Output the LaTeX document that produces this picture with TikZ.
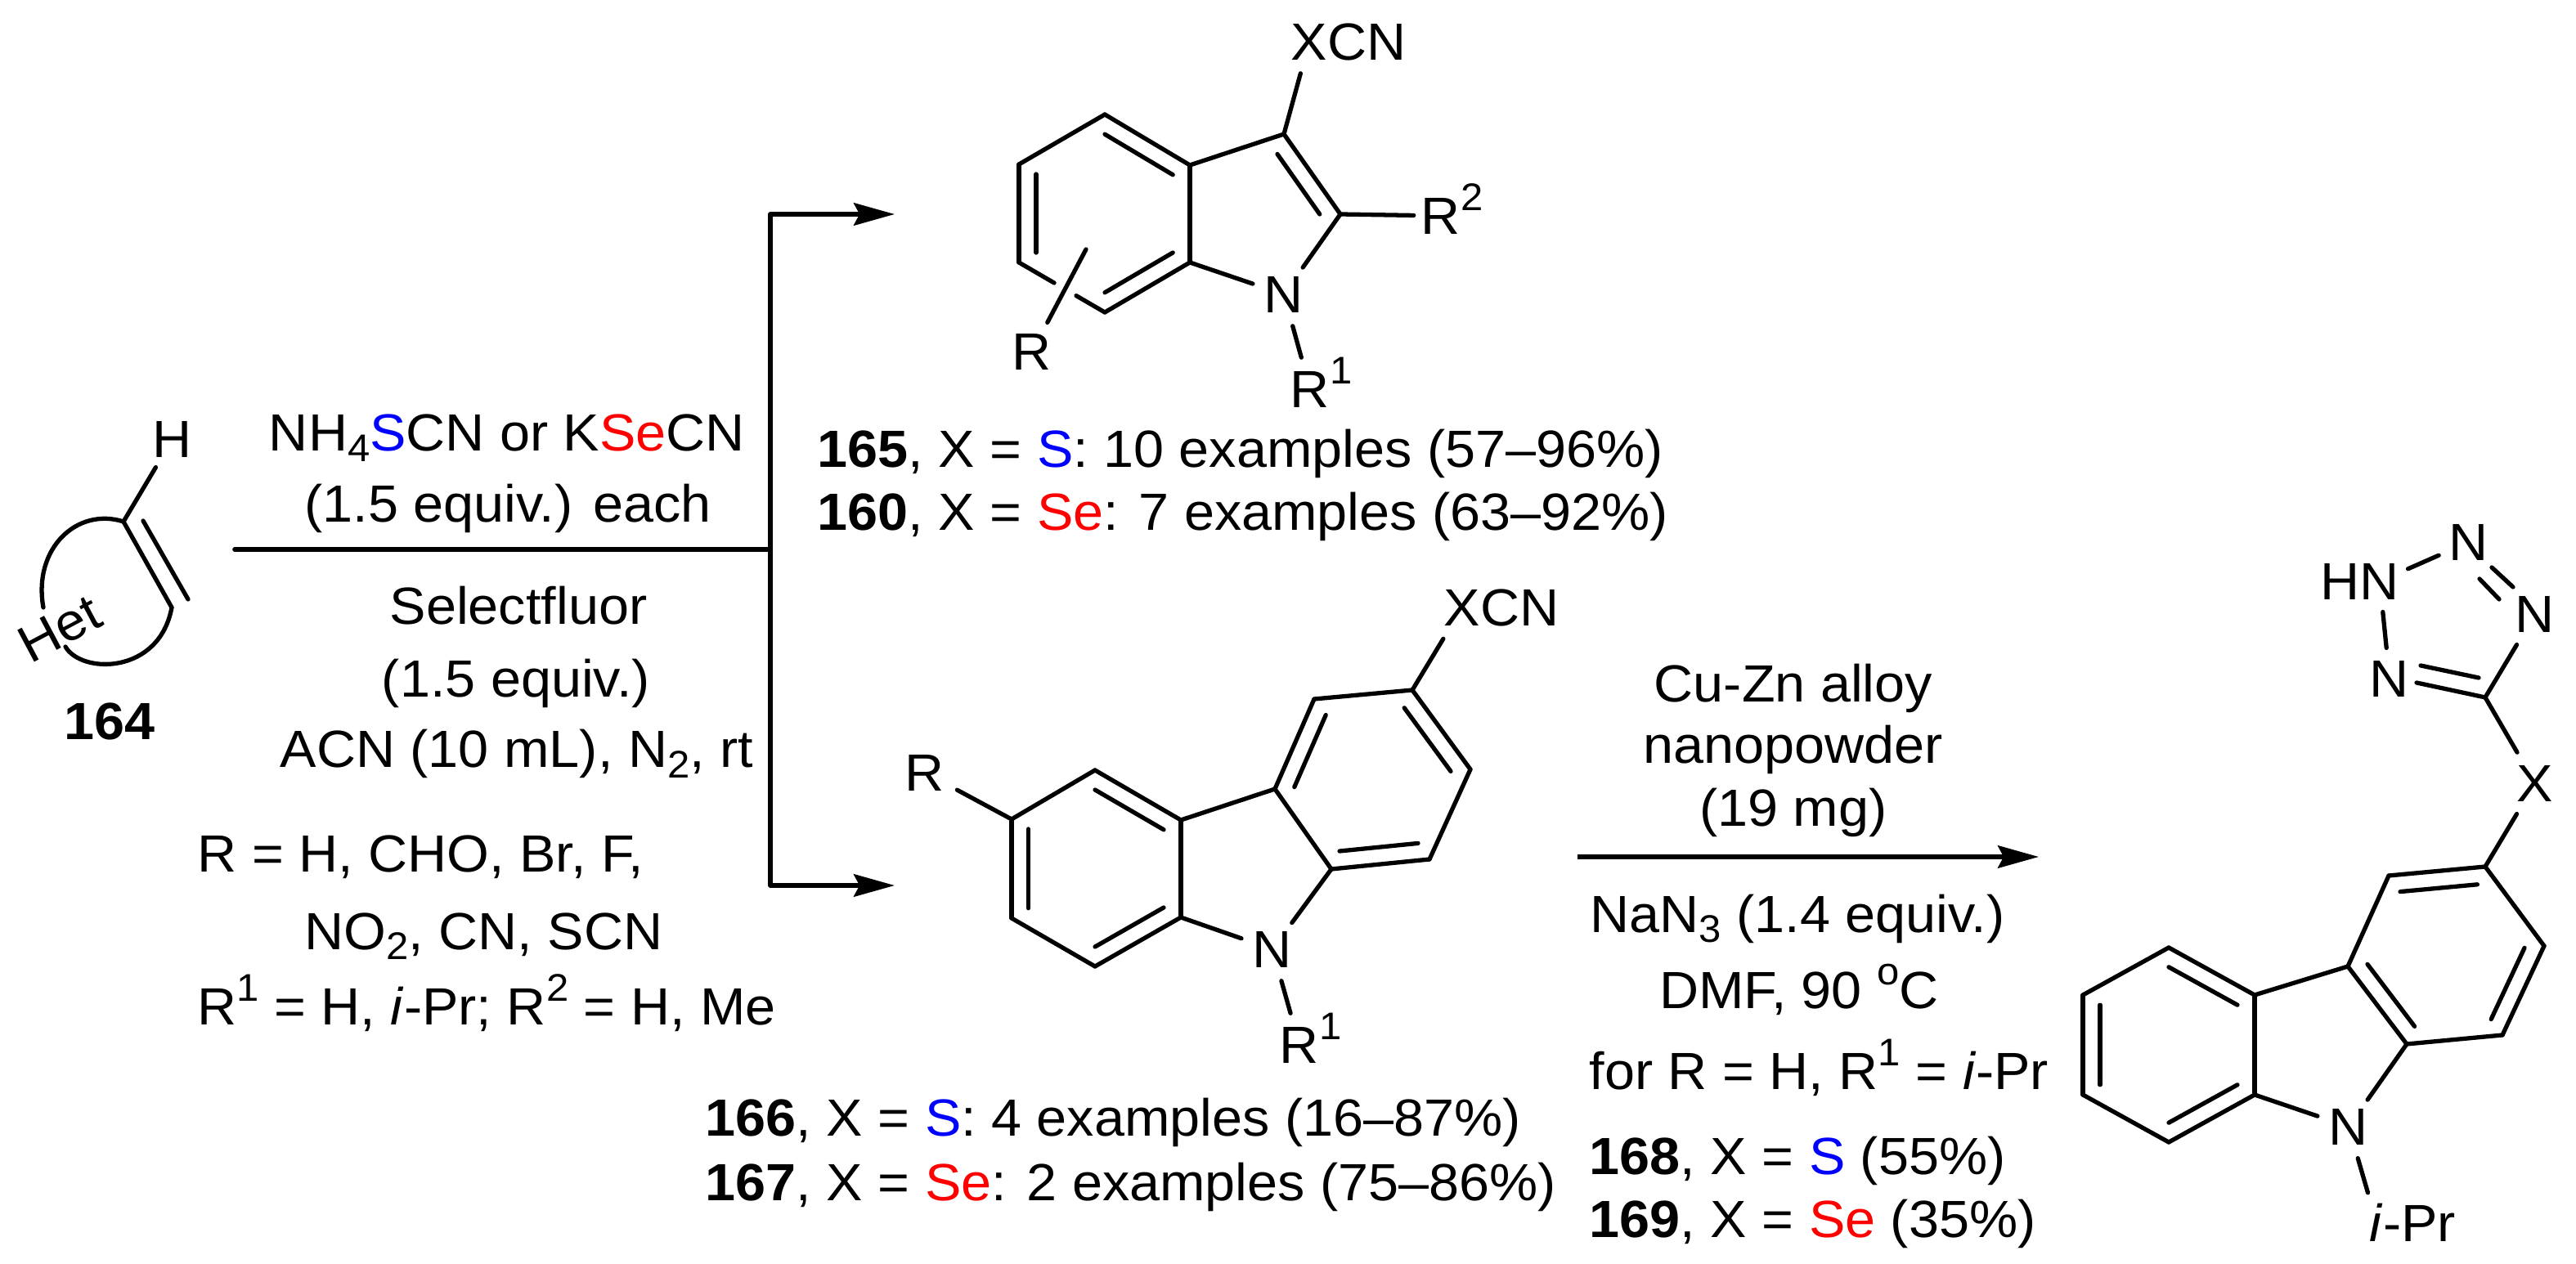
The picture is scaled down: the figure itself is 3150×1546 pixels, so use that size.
\documentclass[tikz,border=0pt]{standalone}
\usepackage{fontspec}
\setmainfont[FakeStretch=1.04]{Liberation Sans}
\usetikzlibrary{calc,arrows.meta}
\definecolor{sblue}{RGB}{0,0,255}
\definecolor{sered}{RGB}{255,0,0}
\newcommand{\sbs}[1]{\raisebox{-3.6pt}{\fontsize{13.4pt}{13pt}\selectfont #1}}
\newcommand{\sps}[1]{\raisebox{8pt}{\fontsize{13.4pt}{13pt}\selectfont #1}}
\newcommand{\sulf}{\textcolor{sblue}{S}}
\newcommand{\selen}{\textcolor{sered}{Se}}
\begin{document}
\begin{tikzpicture}[x=0.01cm,y=-0.01cm]
	\tikzstyle{every node}=[font=\fontsize{18.2pt}{21pt}\selectfont]
	\tikzstyle{bond}=[draw, line width=1.5pt, line cap=round, line join=round]
	\tikzstyle{rxn}=[draw, line width=1.6pt, line join=round, {Stealth[length=14.2pt,width=7.8pt,inset=2pt]}-{Stealth[length=14.2pt,width=7.8pt,inset=2pt]}]
	\tikzstyle{rxnr}=[draw, line width=1.6pt, -{Stealth[length=14.2pt,width=7.8pt,inset=2pt]}]
	\tikzstyle{plain}=[draw, line width=1.6pt, line cap=round]
	\tikzstyle{atom}=[circle, inner sep=0pt, minimum size=7.9mm]
	\tikzstyle{lab}=[inner sep=0pt, anchor=base]
	\tikzstyle{labw}=[inner sep=0pt, anchor=base west]
	\useasboundingbox (0,0) rectangle (3150,1546);
	\begin{scope}
		\coordinate (va) at (151,638);
		\coordinate (vb) at (210,743);
		\coordinate (vc) at (175,637);
		\coordinate (vd) at (230,733);
		\coordinate (he) at (53,743);
		\coordinate (hf) at (80,791);
		\node [atom] (vh) at (211,537) {H};
		\node [lab, rotate=28] (het) at (83,788) {Het};
		\node [lab] (n164) at (134,904) {\textbf{164}};
		\path[bond] (va) -- (vh);
		\path[bond] (va) -- (vb);
		\path[bond] (vc) -- (vd);
		\path[bond] (va) .. controls (95,620) and (40,670) .. (he);
		\path[bond] (hf) .. controls (100,825) and (195,825) .. (vb);
	\end{scope}
	\begin{scope}
		\coordinate (rs) at (287,672);
		\coordinate (rm) at (942,672);
		\coordinate (rt) at (942,262);
		\coordinate (rb) at (942,1083);
		\coordinate (ta) at (1094,262);
		\coordinate (tb) at (1094,1083);
		\path[plain] (rs) -- (rm);
		\path[rxn] (ta) -- (rt) -- (rb) -- (tb);
		\node [lab] (ra) at (620,552) {NH\sbs{4}\sulf CN or K\selen CN};
		\node [lab] (rc) at (621,639) {(1.5 equiv.) each};
		\node [lab] (rd) at (634,764) {Selectfluor};
		\node [lab] (re) at (631,852) {(1.5 equiv.)};
		\node [lab] (rf) at (632,939) {ACN (10 mL), N\sbs{2}, rt};
		\node [labw] (rg) at (241,1066) {R = H, CHO, Br, F,};
		\node [labw] (rh) at (372,1161) {NO\sbs{2}, CN, SCN};
		\node [labw] (ri) at (241,1253) {R\sps{1} = H, \textit{i}-Pr; R\sps{2} = H, Me};
	\end{scope}
	\begin{scope}
		\foreach \n/\x/\y in {ia/1351/140,ib/1246/201,ic/1246/321,id/1351/382,ie/1455/321,if/1455/202,ig/1570/164,ih/1639/262,iu/1351/261,iv/1538/262,ir/1328/305}
			\coordinate (\n) at (\x,\y);
		\node [atom] (in) at (1570,360) {N};
		\node [atom] (ix) at (1601,51) {X\rlap{CN}};
		\node [atom] (irr) at (1262,430) {R};
		\node [atom] (irb) at (1602,476) {R\rlap{\smash{\sps{1}}}};
		\node [atom, minimum size=6.4mm] (irc) at (1762,264) {R\rlap{\smash{\sps{2}}}};
		\foreach \p/\q in {ia/ib,ib/ic,id/ie,ie/if,if/ia,if/ig,ig/ih,ig/ix,ih/irc,ie/in,ih/in,in/irb,ir/irr}
			\path[bond] (\p) -- (\q);
		\path[bond] (ic) -- ($(ic)!.41!(id)$);
		\path[bond] ($(ic)!.667!(id)$) -- (id);
		\foreach \p/\q/\c/\f in {ia/if/iu/.2,ib/ic/iu/.2,id/ie/iu/.2,ig/ih/iv/.25}
			\path[bond] ($(\p)!\f!(\c)$) -- ($(\q)!\f!(\c)$);
		\node [labw] (t165) at (999,572) {\textbf{165}, X = \sulf: 10 examples (57–96\%)};
		\node [labw] (t160) at (999,649) {\textbf{160}, X = \selen: 7 examples (63–92\%)};
	\end{scope}
	\begin{scope}
		\foreach \n/\x/\y in {ca/1339/942,cb/1237/1002,cc/1237/1123,cd/1339/1182,ce/1444/1122,cf/1444/1003,cg/1559/965,ch/1628/1063,ci/1748/1051,cj/1798/941,ck/1727/844,cl/1607/855,cu/1339/1062,cv/1678/953}
			\coordinate (\n) at (\x,\y);
		\node [atom] (cn) at (1556,1161) {N};
		\node [atom, minimum size=8.8mm] (cx) at (1788,743) {X\rlap{CN}};
		\node [atom, minimum size=8.8mm] (cr) at (1131,945) {R};
		\node [atom] (crb) at (1589,1278) {R\rlap{\smash{\sps{1}}}};
		\foreach \p/\q in {ca/cb,cb/cc,cc/cd,cd/ce,ce/cf,cf/ca,cf/cg,cg/ch,ch/ci,ci/cj,cj/ck,ck/cl,cl/cg,ce/cn,ch/cn,cn/crb,cb/cr,ck/cx}
			\path[bond] (\p) -- (\q);
		\foreach \p/\q/\c in {ca/cf/cu,cb/cc/cu,cd/ce/cu,ch/ci/cv,cj/ck/cv,cl/cg/cv}
			\path[bond] ($(\p)!.2!(\c)$) -- ($(\q)!.2!(\c)$);
		\node [labw] (t166) at (862,1389) {\textbf{166}, X = \sulf: 4 examples (16–87\%)};
		\node [labw] (t167) at (862,1468) {\textbf{167}, X = \selen: 2 examples (75–86\%)};
	\end{scope}
	\begin{scope}
		\coordinate (ps) at (1929,1048);
		\coordinate (pt) at (2493,1048);
		\path[rxnr] (ps) -- (pt);
		\node [lab] (pa) at (2193,858) {Cu-Zn alloy};
		\node [lab] (pb) at (2193,933) {nanopowder};
		\node [lab] (pc) at (2193,1010) {(19 mg)};
		\node [lab] (pd) at (2198,1140) {NaN\sbs{3} (1.4 equiv.)};
		\node [lab] (pe) at (2200,1233) {DMF, 90 \sps{o}C};
		\node [labw] (pf) at (1943,1332) {for R = H, R\sps{1} = \textit{i}-Pr};
		\node [labw] (t168) at (1943,1436) {\textbf{168}, X = \sulf{} (55\%)};
		\node [labw] (t169) at (1943,1513) {\textbf{169}, X = \selen{} (35\%)};
	\end{scope}
	\begin{scope}
		\foreach \n/\x/\y in {qa/2652/1159,qb/2547/1217,qc/2547/1339,qd/2652/1397,qe/2757/1339,qf/2757/1217,qg/2871/1182,qh/2943/1277,qi/3060/1266,qj/3111/1157,qk/3039/1060,ql/2921/1071,qu/2652/1278,qv/2991/1169,tc/3039/853,sa/2955/835,sb/2960/814,sc/3031/829,da/3047/694,db/3073/718,dc/3032/708,dd/3056/733}
			\coordinate (\n) at (\x,\y);
		\node [atom] (qn) at (2872,1378) {N};
		\node [atom, minimum size=7.4mm] (qp) at (2906,1495) {\textit{i}\rlap{-Pr}};
		\node [atom, minimum size=8.6mm] (qx) at (3100,958) {X};
		\node [atom, minimum size=8.6mm] (tr) at (3100,751) {N};
		\node [atom] (tu) at (3019,663) {N};
		\node [atom, minimum size=7.4mm] (th) at (2910,711) {\llap{H}N};
		\node [atom, minimum size=7.4mm] (tl) at (2922,830) {N};
		\foreach \p/\q in {qa/qb,qb/qc,qc/qd,qd/qe,qe/qf,qf/qa,qf/qg,qg/qh,qh/qi,qi/qj,qj/qk,qk/ql,ql/qg,qe/qn,qh/qn,qn/qp,qk/qx,qx/tc,tc/tr,tc/sa,sb/sc,da/db,dc/dd,th/tu,th/tl}
			\path[bond] (\p) -- (\q);
		\foreach \p/\q/\c in {qa/qf/qu,qb/qc/qu,qd/qe/qu,qg/qh/qv,qi/qj/qv,qk/ql/qv}
			\path[bond] ($(\p)!.2!(\c)$) -- ($(\q)!.2!(\c)$);
	\end{scope}
\end{tikzpicture}
\end{document}
